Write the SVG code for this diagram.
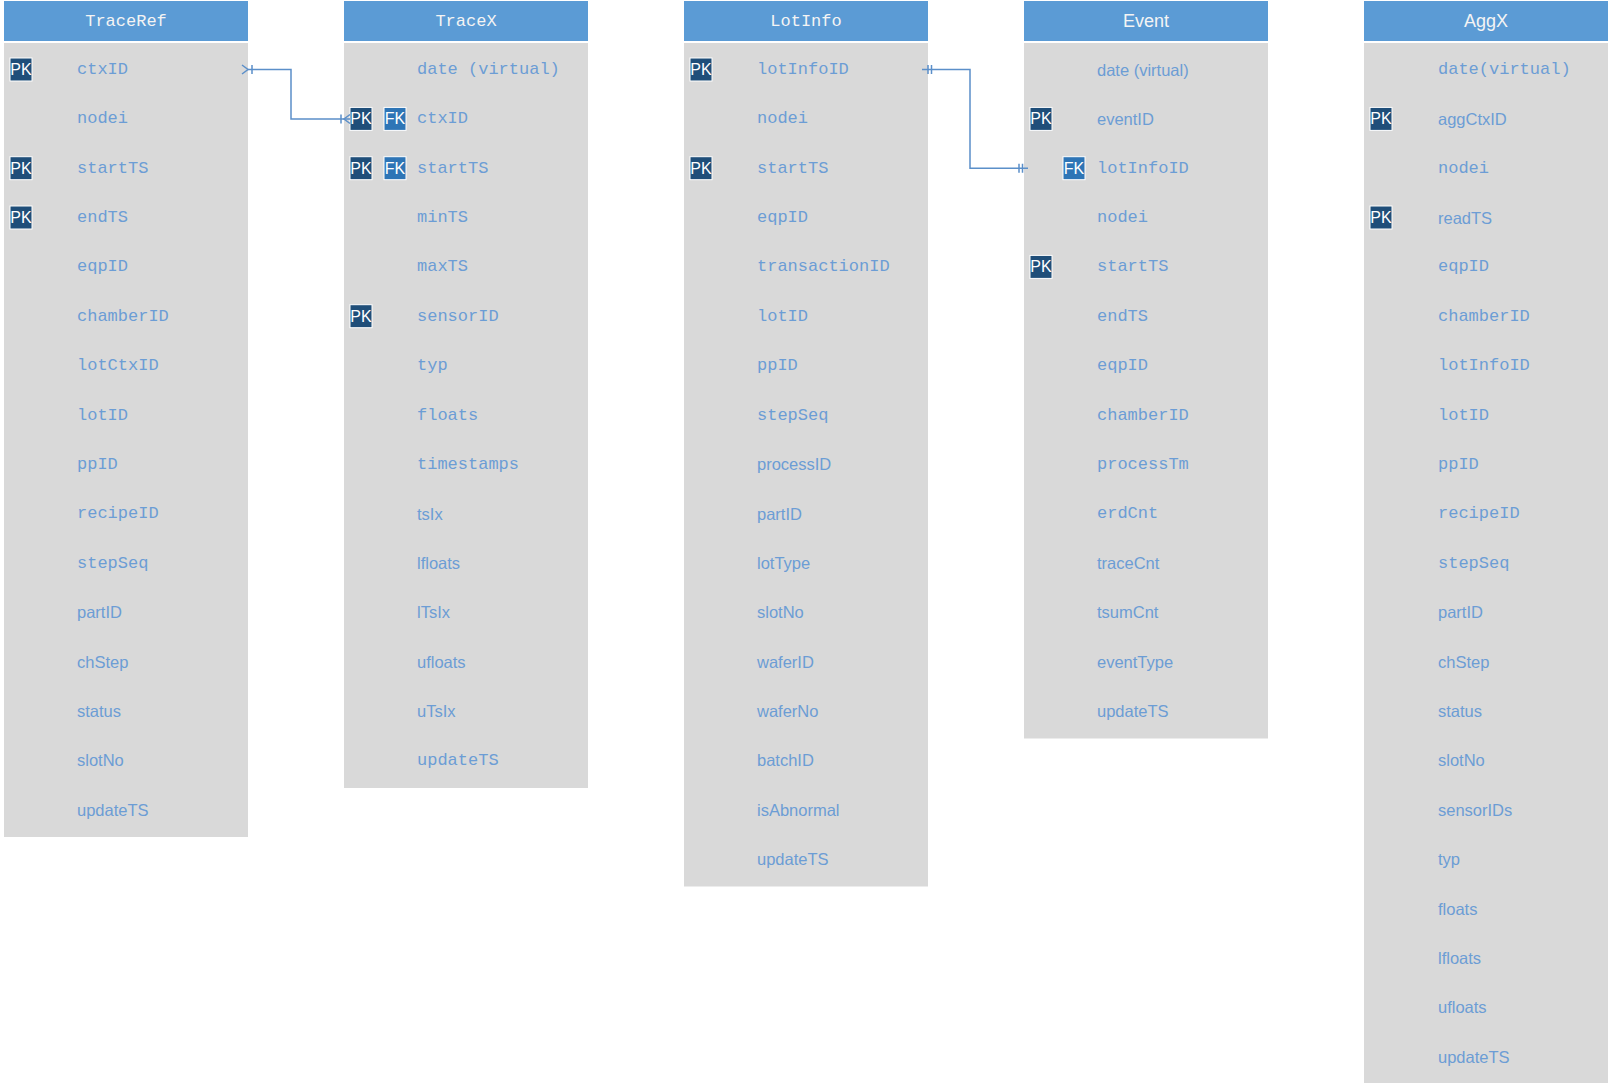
<svg xmlns="http://www.w3.org/2000/svg" width="1610" height="1085" viewBox="0 0 1610 1085">
<style>
.hdr{fill:#5b9bd5}
.body{fill:#d9d9d9}
.ht{fill:#f4f4f4;font-size:17px;text-anchor:middle;dominant-baseline:central}
.htm{font-family:"Liberation Mono","DejaVu Sans Mono",monospace}
.hts{font-family:"Liberation Sans",Arial,sans-serif;font-size:18px}
.m{font-family:"Liberation Mono","DejaVu Sans Mono",monospace;font-size:17px;fill:#6c9dd5;dominant-baseline:central}
.s{font-family:"Liberation Sans",Arial,sans-serif;font-size:16.5px;fill:#6c9dd5;dominant-baseline:central}
.pk{fill:#1f4e79;stroke:#ffffff;stroke-width:1}
.fk{fill:#2e75b6;stroke:#ffffff;stroke-width:1}
.bt{font-family:"Liberation Sans",Arial,sans-serif;font-size:16px;fill:#ffffff;text-anchor:middle;dominant-baseline:central}
.cn{fill:none;stroke:#5b8fc9;stroke-width:1.5}
</style>
<rect width="1610" height="1085" fill="#ffffff"/>

<g id="TraceRef">
<rect class="hdr" x="4" y="1" width="244" height="40"/>
<text class="ht htm" x="126" y="21">TraceRef</text>
<rect class="body" x="4" y="43" width="244" height="794"/>
<rect class="pk" x="10" y="58" width="22" height="23"/><text class="bt" x="21" y="69.5">PK</text>
<rect class="pk" x="10" y="156.7" width="22" height="23"/><text class="bt" x="21" y="168.2">PK</text>
<rect class="pk" x="10" y="206" width="22" height="23"/><text class="bt" x="21" y="217.5">PK</text>
<text class="m" x="77" y="69.5">ctxID</text>
<text class="m" x="77" y="118.9">nodei</text>
<text class="m" x="77" y="168.2">startTS</text>
<text class="m" x="77" y="217.5">endTS</text>
<text class="m" x="77" y="266.9">eqpID</text>
<text class="m" x="77" y="316.2">chamberID</text>
<text class="m" x="77" y="365.6">lotCtxID</text>
<text class="m" x="77" y="415">lotID</text>
<text class="m" x="77" y="464.3">ppID</text>
<text class="m" x="77" y="513.6">recipeID</text>
<text class="m" x="77" y="563">stepSeq</text>
<text class="s" x="77" y="612.3">partID</text>
<text class="s" x="77" y="661.7">chStep</text>
<text class="s" x="77" y="711">status</text>
<text class="s" x="77" y="760.4">slotNo</text>
<text class="s" x="77" y="809.8">updateTS</text>
</g>

<g id="TraceX">
<rect class="hdr" x="344" y="1" width="244" height="40"/>
<text class="ht htm" x="466" y="21">TraceX</text>
<rect class="body" x="344" y="43" width="244" height="745"/>
<rect class="pk" x="350" y="107.4" width="22" height="23"/><text class="bt" x="361" y="118.9">PK</text>
<rect class="fk" x="384" y="107.4" width="22" height="23"/><text class="bt" x="395" y="118.9">FK</text>
<rect class="pk" x="350" y="156.7" width="22" height="23"/><text class="bt" x="361" y="168.2">PK</text>
<rect class="fk" x="384" y="156.7" width="22" height="23"/><text class="bt" x="395" y="168.2">FK</text>
<rect class="pk" x="350" y="304.7" width="22" height="23"/><text class="bt" x="361" y="316.2">PK</text>
<text class="m" x="417" y="69.5">date (virtual)</text>
<text class="m" x="417" y="118.9">ctxID</text>
<text class="m" x="417" y="168.2">startTS</text>
<text class="m" x="417" y="217.5">minTS</text>
<text class="m" x="417" y="266.9">maxTS</text>
<text class="m" x="417" y="316.2">sensorID</text>
<text class="m" x="417" y="365.6">typ</text>
<text class="m" x="417" y="415">floats</text>
<text class="m" x="417" y="464.3">timestamps</text>
<text class="s" x="417" y="513.6">tsIx</text>
<text class="s" x="417" y="563">lfloats</text>
<text class="s" x="417" y="612.3">lTsIx</text>
<text class="s" x="417" y="661.7">ufloats</text>
<text class="s" x="417" y="711">uTsIx</text>
<text class="m" x="417" y="760.4">updateTS</text>
</g>

<g id="LotInfo">
<rect class="hdr" x="684" y="1" width="244" height="40"/>
<text class="ht htm" x="806" y="21">LotInfo</text>
<rect class="body" x="684" y="43" width="244" height="843.5"/>
<rect class="pk" x="690" y="58" width="22" height="23"/><text class="bt" x="701" y="69.5">PK</text>
<rect class="pk" x="690" y="156.7" width="22" height="23"/><text class="bt" x="701" y="168.2">PK</text>
<text class="m" x="757" y="69.5">lotInfoID</text>
<text class="m" x="757" y="118.9">nodei</text>
<text class="m" x="757" y="168.2">startTS</text>
<text class="m" x="757" y="217.5">eqpID</text>
<text class="m" x="757" y="266.9">transactionID</text>
<text class="m" x="757" y="316.2">lotID</text>
<text class="m" x="757" y="365.6">ppID</text>
<text class="m" x="757" y="415">stepSeq</text>
<text class="s" x="757" y="464.3">processID</text>
<text class="s" x="757" y="513.6">partID</text>
<text class="s" x="757" y="563">lotType</text>
<text class="s" x="757" y="612.3">slotNo</text>
<text class="s" x="757" y="661.7">waferID</text>
<text class="s" x="757" y="711">waferNo</text>
<text class="s" x="757" y="760.4">batchID</text>
<text class="s" x="757" y="809.8">isAbnormal</text>
<text class="s" x="757" y="859.1">updateTS</text>
</g>

<g id="Event">
<rect class="hdr" x="1024" y="1" width="244" height="40"/>
<text class="ht hts" x="1146" y="21">Event</text>
<rect class="body" x="1024" y="43" width="244" height="695.5"/>
<rect class="pk" x="1030" y="107.4" width="22" height="23"/><text class="bt" x="1041" y="118.9">PK</text>
<rect class="fk" x="1063" y="156.7" width="22" height="23"/><text class="bt" x="1074" y="168.2">FK</text>
<rect class="pk" x="1030" y="255.4" width="22" height="23"/><text class="bt" x="1041" y="266.9">PK</text>
<text class="s" x="1097" y="69.5">date (virtual)</text>
<text class="s" x="1097" y="118.9">eventID</text>
<text class="m" x="1097" y="168.2">lotInfoID</text>
<text class="m" x="1097" y="217.5">nodei</text>
<text class="m" x="1097" y="266.9">startTS</text>
<text class="m" x="1097" y="316.2">endTS</text>
<text class="m" x="1097" y="365.6">eqpID</text>
<text class="m" x="1097" y="415">chamberID</text>
<text class="m" x="1097" y="464.3">processTm</text>
<text class="m" x="1097" y="513.6">erdCnt</text>
<text class="s" x="1097" y="563">traceCnt</text>
<text class="s" x="1097" y="612.3">tsumCnt</text>
<text class="s" x="1097" y="661.7">eventType</text>
<text class="s" x="1097" y="711">updateTS</text>
</g>

<g id="AggX">
<rect class="hdr" x="1364" y="1" width="244" height="40"/>
<text class="ht hts" x="1486" y="21">AggX</text>
<rect class="body" x="1364" y="43" width="244" height="1040"/>
<rect class="pk" x="1370" y="107.4" width="22" height="23"/><text class="bt" x="1381" y="118.9">PK</text>
<rect class="pk" x="1370" y="206" width="22" height="23"/><text class="bt" x="1381" y="217.5">PK</text>
<text class="m" x="1438" y="69.5">date(virtual)</text>
<text class="s" x="1438" y="118.9">aggCtxID</text>
<text class="m" x="1438" y="168.2">nodei</text>
<text class="s" x="1438" y="217.5">readTS</text>
<text class="m" x="1438" y="266.9">eqpID</text>
<text class="m" x="1438" y="316.2">chamberID</text>
<text class="m" x="1438" y="365.6">lotInfoID</text>
<text class="m" x="1438" y="415">lotID</text>
<text class="m" x="1438" y="464.3">ppID</text>
<text class="m" x="1438" y="513.6">recipeID</text>
<text class="m" x="1438" y="563">stepSeq</text>
<text class="s" x="1438" y="612.3">partID</text>
<text class="s" x="1438" y="661.7">chStep</text>
<text class="s" x="1438" y="711">status</text>
<text class="s" x="1438" y="760.4">slotNo</text>
<text class="s" x="1438" y="809.8">sensorIDs</text>
<text class="s" x="1438" y="859.1">typ</text>
<text class="s" x="1438" y="908.5">floats</text>
<text class="s" x="1438" y="957.8">lfloats</text>
<text class="s" x="1438" y="1007.2">ufloats</text>
<text class="s" x="1438" y="1056.5">updateTS</text>
</g>

<g id="connectors">
<path class="cn" d="M248,69.5 H291 V119 H350"/>
<path class="cn" d="M242,65 L248,69.5 L242,74 M252,65 V74"/>
<path class="cn" d="M350,114.5 L344,119 L350,123.5 M341,114.5 V123.5"/>
<path class="cn" d="M922,69.5 H970 V168.2 H1028"/>
<path class="cn" d="M928,65 V74 M931.5,65 V74"/>
<path class="cn" d="M1019,163.7 V172.7 M1022.5,163.7 V172.7"/>
</g>
</svg>
